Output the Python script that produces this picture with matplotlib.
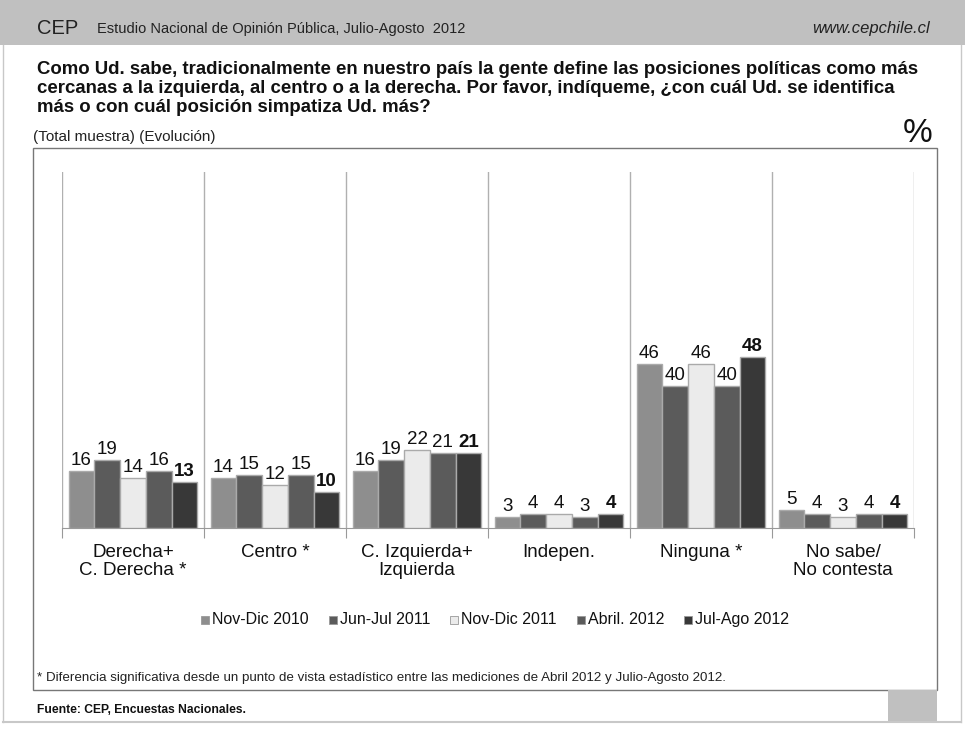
import matplotlib.pyplot as plt
from matplotlib.patches import Rectangle
import numpy as np

W, H = 965, 730

categories = ["Derecha+\nC. Derecha *", "Centro *", "C. Izquierda+\nIzquierda",
              "Indepen.", "Ninguna *", "No sabe/\nNo contesta"]
series_names = ["Nov-Dic 2010", "Jun-Jul 2011", "Nov-Dic 2011", "Abril. 2012", "Jul-Ago 2012"]
nov_dic_2010 = [16, 14, 16, 3, 46, 5]
jun_jul_2011 = [19, 15, 19, 4, 40, 4]
nov_dic_2011 = [14, 12, 22, 4, 46, 3]
abril_2012 = [16, 15, 21, 3, 40, 4]
jul_ago_2012 = [13, 10, 21, 4, 48, 4]

series_colors = ["#8e8e8e", "#5b5b5b", "#ebebeb", "#5b5b5b", "#383838"]

title = ("Como Ud. sabe, tradicionalmente en nuestro país la gente define las posiciones políticas como más\n"
         "cercanas a la izquierda, al centro o a la derecha. Por favor, indíqueme, ¿con cuál Ud. se identifica\n"
         "más o con cuál posición simpatiza Ud. más?")
footnote = "* Diferencia significativa desde un punto de vista estadístico entre las mediciones de Abril 2012 y Julio-Agosto 2012."

plt.rcParams['font.family'] = ['Liberation Sans', 'DejaVu Sans']


def fx(x):
    return x / W


def fy(y):
    return 1 - y / H


def draw_page(fig):
    # header band
    fig.patches.append(Rectangle((0, fy(45)), 1, 45 / H, transform=fig.transFigure,
                                 facecolor="#c0c0c0", edgecolor="none", zorder=0))
    fig.text(fx(37), fy(28), "CEP", fontsize=14.5, va="center", ha="left", color="#222222")
    fig.text(fx(97), fy(29), "Estudio Nacional de Opinión Pública, Julio-Agosto  2012",
             fontsize=10.5, va="center", ha="left", color="#222222")
    fig.text(fx(930), fy(29), "www.cepchile.cl", fontsize=12, style="italic",
             va="center", ha="right", color="#222222")
    # page borders
    fig.add_artist(plt.Line2D([fx(3), fx(3)], [fy(45), fy(722)], transform=fig.transFigure,
                              color="#c8c8c8", lw=1))
    fig.add_artist(plt.Line2D([fx(961), fx(961)], [fy(45), fy(722)], transform=fig.transFigure,
                              color="#c8c8c8", lw=1))
    fig.add_artist(plt.Line2D([fx(3), fx(961)], [fy(722), fy(722)], transform=fig.transFigure,
                              color="#c8c8c8", lw=1.5))
    # outer box
    fig.patches.append(Rectangle((fx(33), fy(690)), (937 - 33) / W, (690 - 148) / H,
                                 transform=fig.transFigure, facecolor="none",
                                 edgecolor="#777777", lw=1, zorder=1))
    fig.patches.append(Rectangle((fx(888), fy(722)), (937 - 888) / W, (722 - 690) / H,
                                 transform=fig.transFigure, facecolor="#c0c0c0",
                                 edgecolor="none", zorder=1))

    fig.text(fx(37), fy(88.5), title, fontsize=13.4, fontweight="bold", va="center", ha="left",
             linespacing=1.17, color="#111111")
    fig.text(fx(33), fy(137), "(Total muestra) (Evolución)", fontsize=11, va="center",
             ha="left", color="#222222")
    fig.text(fx(933), fy(133), "%", fontsize=24, va="center", ha="right", color="#111111")
    fig.text(fx(37), fy(678), footnote, fontsize=9.6, va="center", ha="left",
             color="#222222")
    fig.text(fx(37), fy(710), "Fuente: CEP, Encuestas Nacionales.", fontsize=8.7,
             fontweight="bold", va="center", ha="left", color="#111111")


def draw_legend(fig, center_x=495, baseline_y=624, box=8, pad=3, gap=20):
    # one row legend, laid out by measured text widths so all labels share a baseline
    renderer = fig.canvas.get_renderer()
    texts = []
    widths = []
    for name in series_names:
        t = fig.text(0, fy(baseline_y), name, fontsize=11.5, va="baseline", ha="left",
                     color="#111111")
        texts.append(t)
        widths.append(t.get_window_extent(renderer).width)
    total = sum(box + pad + w for w in widths) + gap * (len(widths) - 1)
    x = center_x - total / 2
    for t, w, c in zip(texts, widths, series_colors):
        fig.patches.append(Rectangle((fx(x), fy(baseline_y)), box / W, box / H,
                                     transform=fig.transFigure, facecolor=c,
                                     edgecolor="#999999", lw=0.6))
        t.set_x(fx(x + box + pad))
        x += box + pad + w + gap


def draw_chart(fig):
    ax = fig.add_axes([fx(62), fy(528), (914 - 62) / W, (528 - 172) / H])
    data = [nov_dic_2010, jun_jul_2011, nov_dic_2011, abril_2012, jul_ago_2012]
    n = len(categories)
    x = np.arange(n)
    bw = 0.1815
    for i, vals in enumerate(data):
        pos = x + (i - 2) * bw
        bars = ax.bar(pos, vals, width=bw, color=series_colors[i], edgecolor="#aaaaaa",
                      linewidth=1, label=series_names[i], zorder=3)
        for b, v in zip(bars, vals):
            ax.annotate(str(v), (b.get_x() + b.get_width() / 2, v), xytext=(0, 1.5),
                        textcoords="offset points", ha="center", va="bottom", fontsize=13.5,
                        fontweight="bold" if i == 4 else "normal", color="#111111")

    ax.set_xlim(-0.5, n - 0.5)
    ax.set_ylim(0, 100)
    for b in np.arange(n + 1) - 0.5:
        ax.axvline(b, color="#b0b0b0", lw=1, zorder=1)
    for s in ["top", "left", "right"]:
        ax.spines[s].set_visible(False)
    ax.spines["bottom"].set_color("#999999")
    ax.set_yticks([])
    ax.set_xticks(np.arange(n + 1) - 0.5)
    ax.set_xticklabels([])
    ax.tick_params(axis="x", length=7, color="#999999")
    for i, c in enumerate(categories):
        ax.text(i, -4.6, c, ha="center", va="top", fontsize=13.5, linespacing=1.08,
                color="#111111")
    return ax


if __name__ == "__main__":
    fig = plt.figure(figsize=(W / 100, H / 100), dpi=100)
    draw_page(fig)
    draw_chart(fig)
    draw_legend(fig)
    fig.savefig("out.png", dpi=100)
